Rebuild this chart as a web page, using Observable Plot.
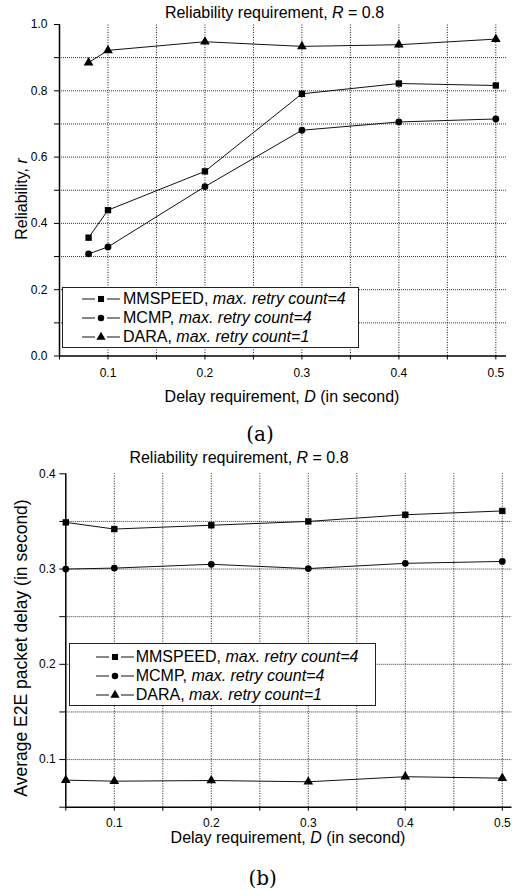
<!DOCTYPE html>
<html><head><meta charset="utf-8">
<script src="https://cdn.jsdelivr.net/npm/d3@7"></script>
<script src="https://cdn.jsdelivr.net/npm/@observablehq/plot@0.6"></script>
<style>
body{margin:0;background:#fff;}
#root{position:relative;width:512px;height:890px;overflow:hidden;font-family:"Liberation Sans",Arial,sans-serif;color:#000;background:#fff;}
#root svg text{font-size:12px !important;}
.abs{position:absolute;white-space:nowrap;line-height:1;}
.legend{position:absolute;background:#fff;border:1.3px solid #222;box-sizing:border-box;}
.row{position:absolute;white-space:nowrap;line-height:1;font-size:16px;display:flex;align-items:center;}
.row svg{display:block;}
i{font-style:italic;}
</style></head><body><div id="root"></div>
<script>
// ---- data ----
const seriesNames = ["MMSPEED", "MCMP", "DARA"];
const retryCounts = [4, 4, 1];
const seriesSymbols = ["square", "circle", "triangle"];

const delaysA = [0.08, 0.1, 0.2, 0.3, 0.4, 0.5];
const reliabilityMMSPEED = [0.357, 0.440, 0.557, 0.791, 0.822, 0.816];
const reliabilityMCMP    = [0.308, 0.329, 0.511, 0.681, 0.706, 0.715];
const reliabilityDARA    = [0.885, 0.922, 0.948, 0.934, 0.939, 0.956];

const delaysB = [0.05, 0.1, 0.2, 0.3, 0.4, 0.5];
const e2eMMSPEED = [0.349, 0.342, 0.346, 0.350, 0.357, 0.361];
const e2eMCMP    = [0.300, 0.301, 0.305, 0.3005, 0.306, 0.308];
const e2eDARA    = [0.0784, 0.0773, 0.078, 0.0767, 0.082, 0.0805];

const xTicks = [0.05, 0.1, 0.15, 0.2, 0.25, 0.3, 0.35, 0.4, 0.45, 0.5];
const xGrid = [0.1, 0.15, 0.2, 0.25, 0.3, 0.35, 0.4, 0.45, 0.5];
const yTicksA = [0, 0.1, 0.2, 0.3, 0.4, 0.5, 0.6, 0.7, 0.8, 0.9, 1.0];
const yGridA = [0.1, 0.2, 0.3, 0.4, 0.5, 0.6, 0.7, 0.8, 0.9];
const yTicksB = [0.05, 0.1, 0.15, 0.2, 0.25, 0.3, 0.35, 0.4];
const yGridB = [0.1, 0.15, 0.2, 0.25, 0.3, 0.35];

const titleText = "Reliability requirement, ";
const xTitle = "Delay requirement, ";

// ---- helpers ----
const root = document.getElementById("root");
const isMult = (v, step) => Math.abs(Math.round(v / step) * step - v) < 1e-9;
const markerSize = {square: 3.6, circle: 3.4, triangle: 3.6};

function rowsFor(xs, ys, s) { return xs.map((x, i) => ({x, y: ys[i], s})); }

function makeChart(cfg) {
  const rows = cfg.series.flatMap((ys, k) => rowsFor(cfg.xs, ys, seriesNames[k]));
  const marks = [
    Plot.ruleY(cfg.yGrid, {y: d => d, x1: () => cfg.xDomain[0], x2: () => cfg.xDomain[1], stroke: "#000", strokeOpacity: 0.8, strokeDasharray: "1,1"}),
    Plot.ruleX(xGrid, {x: d => d, y1: () => cfg.yDomain[0], y2: () => cfg.yDomain[1], stroke: "#000", strokeOpacity: 0.9, strokeDasharray: "1,1.5"}),
    Plot.line(rows, {x: "x", y: "y", z: "s", stroke: "#111", strokeWidth: 1}),
    ...seriesNames.map((name, k) => Plot.dot(rows.filter(r => r.s === name), {x: "x", y: "y", symbol: () => seriesSymbols[k], r: markerSize[seriesSymbols[k]], fill: "#000", stroke: "none"})),
    Plot.ruleX([cfg.xDomain[0]], {x: d => d, y1: () => cfg.yDomain[0], y2: () => cfg.yDomain[1], stroke: "#000", strokeWidth: 1.5}),
    Plot.ruleY([cfg.yDomain[0]], {y: d => d, x1: () => cfg.xDomain[0], x2: () => cfg.xDomain[1], stroke: "#000", strokeWidth: 1.5})
  ];
  const svg = Plot.plot({
    width: 512, height: cfg.height,
    marginLeft: cfg.ml, marginRight: cfg.mr, marginTop: cfg.mt, marginBottom: cfg.mb,
    style: {fontSize: "12px", fontFamily: "'Liberation Sans', Arial, sans-serif", background: "transparent", overflow: "visible"},
    symbol: {type: "identity"},
    x: {domain: cfg.xDomain, ticks: xTicks, tickSize: 4, tickPadding: cfg.xPad,
        tickFormat: d => isMult(d, 0.1) ? d.toFixed(1) : "", label: null},
    y: {domain: cfg.yDomain, ticks: cfg.yTicks, tickSize: cfg.ySize, tickPadding: cfg.yPad,
        tickFormat: d => isMult(d, cfg.yLabelStep) ? d.toFixed(1) : "", label: null},
    marks
  });
  svg.style.position = "absolute";
  svg.style.left = "0px";
  svg.style.top = cfg.top + "px";
  root.appendChild(svg);
}

function text(html, cx, baseline, fs, extra = "") {
  const d = document.createElement("div");
  d.className = "abs";
  d.innerHTML = html;
  d.style.cssText += `left:${cx}px;top:${baseline - 0.847 * fs}px;font-size:${fs}px;transform:translateX(-50%);${extra}`;
  root.appendChild(d);
}
function vtext(html, cx, cy, fs) {
  const d = document.createElement("div");
  d.className = "abs";
  d.innerHTML = html;
  d.style.cssText += `left:${cx}px;top:${cy}px;font-size:${fs}px;transform:translate(-50%,-50%) rotate(-90deg);`;
  root.appendChild(d);
}
function markerSvg(sym) {
  const r = markerSize[sym] * 0.95;
  let shape;
  if (sym === "square") { const s = r * Math.sqrt(Math.PI) / 2; shape = `<rect x="${19 - s}" y="${6 - s}" width="${2 * s}" height="${2 * s}"/>`; }
  else if (sym === "circle") shape = `<circle cx="19" cy="6" r="${r}"/>`;
  else { const p = d3.symbol(d3.symbolTriangle, Math.PI * r * r)(); shape = `<path transform="translate(19,6)" d="${p}"/>`; }
  return `<svg width="38" height="12"><line x1="0" x2="13" y1="6" y2="6" stroke="#111" stroke-width="1"/><line x1="25" x2="38" y1="6" y2="6" stroke="#111" stroke-width="1"/><g fill="#000">${shape}</g></svg>`;
}
function legend(box, rowYs, sampleX, textX) {
  const L = document.createElement("div");
  L.className = "legend";
  L.style.cssText += `left:${box[0]}px;top:${box[1]}px;width:${box[2]}px;height:${box[3]}px;`;
  root.appendChild(L);
  seriesNames.forEach((name, k) => {
    const r = document.createElement("div");
    r.className = "row";
    r.style.left = sampleX + "px";
    r.style.top = (rowYs[k] - 8) + "px";
    r.style.height = "16px";
    r.innerHTML = markerSvg(seriesSymbols[k]) + `<span style="margin-left:${textX - sampleX - 38}px">${name}, <i>max. retry count=${retryCounts[k]}</i></span>`;
    root.appendChild(r);
  });
}

// ---- chart (a) ----
makeChart({
  top: 0, height: 380, ml: 59, mr: 6, mt: 24, mb: 24.5,
  xDomain: [0.05, 0.511], yDomain: [0, 1],
  xs: delaysA, series: [reliabilityMMSPEED, reliabilityMCMP, reliabilityDARA],
  yTicks: yTicksA, yGrid: yGridA, yLabelStep: 0.2, ySize: 5, yPad: 7, xPad: 8
});
text(`${titleText}<i>R</i> = 0.8`, 274.5, 18.3, 16);
text(`${xTitle}<i>D</i> (in second)`, 282, 402.5, 16);
vtext(`Reliability, <i>r</i>`, 22, 198.5, 16);
legend([62, 286.7, 297, 61.6], [299.3, 318.3, 336.7], 82, 123);
text("(a)", 260, 441, 20, "font-family:'DejaVu Serif',serif;");

// ---- chart (b) ----
makeChart({
  top: 440, height: 400, ml: 65.3, mr: 0.5, mt: 33.3, mb: 33.3,
  xDomain: [0.05, 0.51], yDomain: [0.05, 0.4],
  xs: delaysB, series: [e2eMMSPEED, e2eMCMP, e2eDARA],
  yTicks: yTicksB, yGrid: yGridB, yLabelStep: 0.1, ySize: 6, yPad: 4, xPad: 7
});
text(`${titleText}<i>R</i> = 0.8`, 239, 463.7, 16);
text(`${xTitle}<i>D</i> (in second)`, 288, 843.5, 16);
vtext(`Average E2E packet delay (in second)`, 22, 647.5, 17.5);
legend([69.3, 643.3, 306.7, 62.4], [656.7, 675.7, 695], 96, 135.7);
text("(b)", 262.7, 885, 20, "font-family:'DejaVu Serif',serif;");
</script></body></html>
